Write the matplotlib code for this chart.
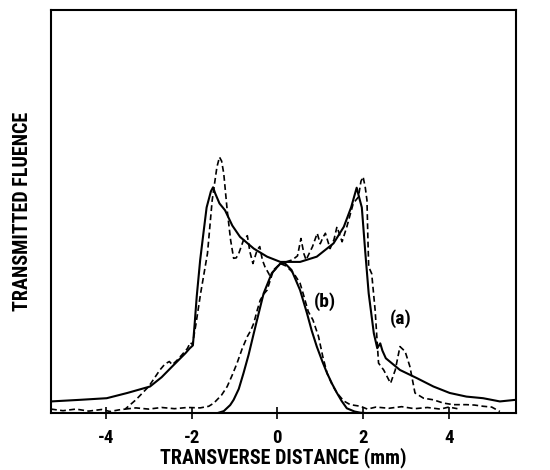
import matplotlib
matplotlib.use("Agg")
import matplotlib.pyplot as plt

plt.rcParams['font.family'] = ["Roboto Condensed", "DejaVu Sans"]
plt.rcParams['font.weight'] = 'bold'

# Curve (a): calculated (solid) and measured (dashed)
a_calc_x = [-5.28, -4.6, -3.98, -3.5, -2.97, -2.7, -2.45, -2.3, -2.14, -2.05, -1.97, -1.93, -1.88, -1.80,
            -1.72, -1.65, -1.55, -1.50, -1.45, -1.35, -1.22, -1.05, -0.87, -0.55, -0.24, 0.07, 0.53, 0.92,
            1.31, 1.55, 1.72, 1.85, 1.92, 1.97, 2.05, 2.13, 2.25, 2.33, 2.40, 2.45, 2.53, 2.86, 3.25, 3.64,
            4.02, 4.41, 4.80, 5.19, 5.56]
a_calc_y = [2.9, 3.3, 3.7, 5.0, 6.6, 8.9, 11.6, 13.2, 14.9, 16.0, 16.8, 22, 29, 38,
            45, 51, 55, 56, 54.5, 52, 50.3, 46.5, 43.7, 40.8, 38.8, 37.5, 37.5, 38.8,
            42.1, 46.2, 51, 55.9, 53, 51, 40, 29.7, 19.8, 16.1, 17.3, 15.5, 13.6, 10.7, 8.7, 6.6,
            5.0, 4.1, 3.7, 2.9, 3.3]

a_meas_x = [-5.28, -5.0, -4.7, -4.4, -4.1, -3.9, -3.7, -3.55, -3.3, -3.0, -2.74, -2.62, -2.52, -2.45,
            -2.35, -2.23, -2.1, -2.03, -1.98, -1.9, -1.79, -1.63, -1.52, -1.41, -1.35, -1.30, -1.25,
            -1.17, -1.09, -1.02, -0.96, -0.90, -0.79, -0.70, -0.64, -0.57, -0.47, -0.41, -0.35, -0.29,
            -0.18, -0.06, 0.07, 0.2, 0.35, 0.47, 0.55, 0.62, 0.67, 0.82, 0.93, 1.0, 1.06, 1.12, 1.23,
            1.32, 1.39, 1.51, 1.62, 1.77, 1.89, 1.95, 2.0, 2.05, 2.09, 2.11, 2.13, 2.2, 2.28, 2.36,
            2.48, 2.64, 2.75, 2.86, 2.98, 3.09, 3.21, 3.41, 3.64, 3.87, 4.1, 4.41, 4.6, 4.8, 5.0, 5.19]
a_meas_y = [1.0, 0.6, 1.0, 0.5, 0.9, 0.4, 0.8, 1.0, 3.3, 6.6, 10.7, 12.2, 12.8, 12.0,
            13.0, 14.4, 16, 17.5, 17.0, 22, 29.7, 39.6, 52.8, 61, 63.5, 62.5, 59.4,
            50.3, 42.9, 38.4, 38.5, 39.6, 42.9, 44, 40, 37.1, 40.5, 41.3, 38, 36.3,
            34.2, 35.5, 37.1, 37.5, 38, 39, 43.3, 39.5, 38, 41.3, 44.6, 42, 43.5, 44.6, 40.8,
            43, 46.2, 42.5, 46.2, 52, 53.6, 57.5, 58.6, 56, 52.8, 44, 36.3, 34.6, 25.6, 12.4,
            10.7, 7.4, 10.7, 16.5, 15.3, 11.6, 5, 3.7, 3.3, 2.5, 2.1, 2.1, 2.0, 1.7, 1.5, 0.4]

# Curve (b): calculated (solid) and measured (dashed)
b_calc_x = [-1.40, -1.25, -1.1, -1.02, -0.9, -0.79, -0.67, -0.55, -0.43, -0.32, -0.13, 0.07, 0.18,
            0.33, 0.53, 0.69, 0.8, 0.92, 1.05, 1.16, 1.28, 1.39, 1.5, 1.62, 1.8, 1.94, 2.1]
b_calc_y = [0, 0.5, 2.0, 3.3, 6, 9.9, 14.5, 19.8, 25, 29.7, 34.7, 37.1, 37.1,
            35.5, 30.5, 24.8, 20.5, 16.5, 12.8, 9.9, 7.2, 5, 3, 1.2, 0.4, 0.1, 0]

b_meas_x = [-3.55, -3.3, -3.0, -2.7, -2.4, -2.1, -1.8, -1.6, -1.48, -1.3, -1.17, -1.05, -0.94, -0.82,
            -0.70, -0.62, -0.55, -0.47, -0.40, -0.32, -0.24, -0.09, 0.07, 0.2, 0.38, 0.53, 0.6, 0.72,
            0.83, 0.96, 1.06, 1.16, 1.28, 1.39, 1.55, 1.70, 1.94, 2.1, 2.3, 2.6, 2.9, 3.2, 3.5, 3.8,
            4.0, 4.2]
b_meas_y = [1.0, 1.3, 1.0, 1.4, 1.1, 1.4, 1.3, 1.7, 2.5, 4.5, 6.6, 9.5, 12.4, 16,
            19, 20.5, 22.3, 25.5, 28, 29.5, 30.5, 35.5, 37.1, 36.5, 34.7, 32.2, 29.7, 25.2,
            23.1, 19, 14, 9.9, 7, 5, 3, 2.1, 1.7, 1.0, 1.5, 1.2, 1.6, 1.1, 1.4, 1.0,
            1.5, 1.1]

x_ticks = [-4, -2, 0, 2, 4]
x_label = "TRANSVERSE DISTANCE (mm)"
y_label = "TRANSMITTED FLUENCE"

fig = plt.figure(figsize=(5.5, 4.7), dpi=100)
ax = fig.add_axes([0.0927, 0.121, 0.845, 0.858])

ax.plot(a_calc_x, a_calc_y, color='black', lw=1.5, solid_joinstyle='round')
ax.plot(a_meas_x, a_meas_y, color='black', lw=1.2, ls=(0, (3.5, 2)))
ax.plot(b_calc_x, b_calc_y, color='black', lw=1.5, solid_joinstyle='round')
ax.plot(b_meas_x, b_meas_y, color='black', lw=1.2, ls=(0, (3.5, 2)))

ax.text(1.12, 27.6, "(b)", fontsize=14, fontweight='bold', ha='center', va='center')
ax.text(2.88, 23.5, "(a)", fontsize=14, fontweight='bold', ha='center', va='center')

ax.set_xlim(-5.28, 5.56)
ax.set_ylim(0, 100)
ax.set_xticks(x_ticks)
ax.set_xticklabels([str(t) for t in x_ticks], fontsize=13.5, fontweight='bold')
ax.set_yticks([])
ax.tick_params(axis='x', direction='inout', length=9, width=1.2, pad=7, top=False)
for s in ax.spines.values():
    s.set_linewidth(1.5)

ax.set_xlabel(x_label, fontsize=14.5, fontweight='bold', labelpad=0)
ax.set_ylabel(y_label, fontsize=14.5, fontweight='bold', labelpad=14)

fig.savefig("out.png", dpi=100)
